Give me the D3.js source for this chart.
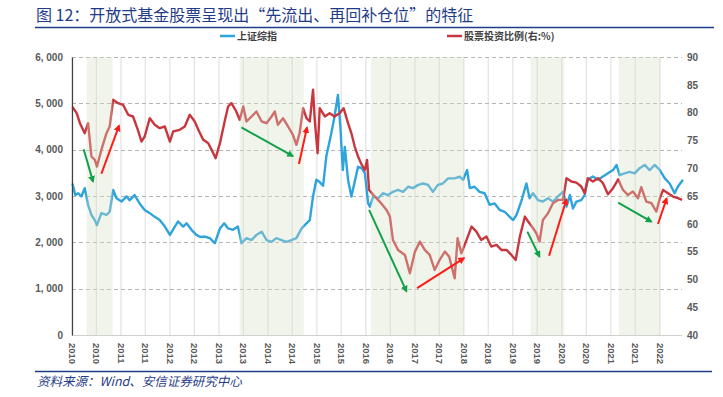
<!DOCTYPE html>
<html><head><meta charset="utf-8">
<script src="https://cdn.jsdelivr.net/npm/d3@7"></script>
<style>body{margin:0;background:#fff}svg{display:block}</style>
</head><body>
<svg id="chart" width="723" height="397"></svg>
<script>
const titleText = "图 12：开放式基金股票呈现出“先流出、再回补仓位”的特征";
const sourceText = "资料来源：Wind、安信证券研究中心";
const seriesNames = ["上证综指", "股票投资比例(右:%)"];
const leftTicks = [0, 1000, 2000, 3000, 4000, 5000, 6000];
const leftTickLabels = ["0", "1, 000", "2, 000", "3, 000", "4, 000", "5, 000", "6, 000"];
const rightTicks = [40, 45, 50, 55, 60, 65, 70, 75, 80, 85, 90];
const xTickDates = ["2010-01-01","2010-07-01","2011-01-01","2011-07-01","2012-01-01","2012-07-01","2013-01-01","2013-07-01","2014-01-01","2014-07-01","2015-01-01","2015-07-01","2016-01-01","2016-07-01","2017-01-01","2017-07-01","2018-01-01","2018-07-01","2019-01-01","2019-07-01","2020-01-01","2020-07-01","2021-01-01","2021-07-01","2022-01-01"];
const xTickLabels = ["2010","2010","2011","2011","2012","2012","2013","2013","2014","2014","2015","2015","2016","2016","2017","2017","2018","2018","2019","2019","2020","2020","2021","2021","2022"];

// 上证综指 (left axis)
const sseDates = ["2010-01-04","2010-01-26","2010-02-17","2010-03-12","2010-04-06","2010-05-01","2010-05-26","2010-06-20","2010-07-06","2010-08-08","2010-09-15","2010-10-09","2010-11-04","2010-11-29","2011-01-05","2011-02-12","2011-03-07","2011-04-13","2011-05-20","2011-06-27","2011-08-04","2011-09-10","2011-10-17","2011-11-24","2012-01-01","2012-02-07","2012-03-02","2012-04-09","2012-05-04","2012-06-10","2012-07-16","2012-08-11","2012-09-18","2012-10-25","2012-12-01","2013-01-08","2013-02-09","2013-03-10","2013-04-16","2013-05-22","2013-06-18","2013-07-25","2013-09-01","2013-10-07","2013-11-15","2013-12-21","2014-01-28","2014-03-04","2014-04-12","2014-05-18","2014-06-25","2014-08-01","2014-09-09","2014-10-15","2014-11-09","2014-12-03","2014-12-28","2015-01-22","2015-02-16","2015-03-12","2015-04-18","2015-05-12","2015-06-07","2015-06-25","2015-07-13","2015-07-28","2015-08-21","2015-09-15","2015-10-10","2015-11-04","2015-12-01","2015-12-25","2016-01-18","2016-01-31","2016-02-25","2016-04-01","2016-05-07","2016-06-15","2016-07-21","2016-08-28","2016-10-04","2016-11-12","2016-12-18","2017-01-25","2017-03-02","2017-04-09","2017-05-15","2017-06-21","2017-07-28","2017-09-05","2017-10-24","2017-12-01","2017-12-26","2018-01-25","2018-02-14","2018-03-21","2018-04-28","2018-06-04","2018-07-12","2018-08-18","2018-09-25","2018-11-01","2018-12-09","2019-01-03","2019-01-28","2019-03-04","2019-04-12","2019-05-06","2019-05-31","2019-07-07","2019-08-13","2019-09-20","2019-10-27","2019-12-03","2020-01-10","2020-02-05","2020-03-01","2020-03-24","2020-04-19","2020-05-25","2020-06-19","2020-07-13","2020-08-20","2020-09-27","2020-11-03","2020-12-10","2021-01-17","2021-02-12","2021-03-07","2021-04-13","2021-05-20","2021-06-27","2021-08-03","2021-09-10","2021-10-17","2021-11-24","2022-01-01","2022-02-07","2022-03-15","2022-04-21","2022-05-15","2022-06-22"];
const sseValues = [3270,3020,3060,2990,3170,2810,2590,2480,2370,2630,2590,2660,3130,2950,2880,2990,2910,3020,2840,2700,2630,2550,2480,2340,2160,2340,2450,2340,2410,2270,2160,2120,2120,2090,1980,2300,2410,2300,2270,2340,1980,2090,2050,2160,2230,2050,2010,2090,2050,2010,2050,2090,2300,2410,2480,2990,3350,3300,3220,3850,4350,4710,5180,4500,3560,4060,3350,2990,3310,3630,3600,3490,2840,2770,2990,2950,3060,3020,3090,3130,3090,3200,3170,3240,3270,3240,3090,3240,3270,3380,3380,3420,3350,3560,3170,3200,3090,3060,2810,2840,2700,2660,2550,2480,2590,2880,3270,2950,3060,2910,2880,2950,2880,2990,3090,2770,3020,2730,2880,2910,3020,3350,3420,3350,3420,3490,3560,3670,3450,3490,3520,3490,3600,3670,3560,3670,3560,3380,3270,3060,3200,3350];

// 股票投资比例 (right axis, %)
const ratioDates = ["2010-01-04","2010-02-05","2010-03-01","2010-04-06","2010-05-01","2010-05-26","2010-06-20","2010-07-06","2010-08-08","2010-09-15","2010-10-09","2010-11-04","2010-12-10","2011-01-17","2011-02-24","2011-04-01","2011-05-07","2011-06-03","2011-06-27","2011-08-04","2011-09-10","2011-10-17","2011-11-24","2012-01-01","2012-01-25","2012-03-14","2012-04-21","2012-05-28","2012-07-04","2012-08-06","2012-09-06","2012-10-13","2012-11-07","2012-12-07","2013-01-08","2013-02-15","2013-03-10","2013-04-04","2013-05-10","2013-06-04","2013-07-01","2013-07-25","2013-09-01","2013-10-07","2013-11-15","2013-12-21","2014-01-28","2014-02-21","2014-03-16","2014-04-23","2014-05-31","2014-07-06","2014-08-01","2014-08-25","2014-09-20","2014-10-15","2014-11-09","2014-12-03","2014-12-16","2015-01-06","2015-01-22","2015-03-01","2015-04-06","2015-05-12","2015-06-19","2015-07-19","2015-08-21","2015-09-15","2015-10-10","2015-11-04","2015-12-01","2015-12-25","2016-01-10","2016-01-25","2016-02-25","2016-04-13","2016-06-03","2016-06-28","2016-07-21","2016-08-28","2016-10-18","2016-11-24","2017-01-01","2017-02-07","2017-03-15","2017-04-21","2017-05-28","2017-07-04","2017-08-12","2017-09-13","2017-10-24","2017-11-15","2017-12-13","2018-01-21","2018-02-27","2018-04-04","2018-05-10","2018-06-18","2018-07-24","2018-09-01","2018-10-07","2018-11-15","2018-12-21","2019-01-22","2019-02-22","2019-04-01","2019-04-25","2019-06-01","2019-06-25","2019-07-19","2019-08-13","2019-09-20","2019-10-27","2019-12-03","2020-01-10","2020-02-05","2020-03-12","2020-04-19","2020-05-25","2020-06-19","2020-07-13","2020-08-20","2020-09-27","2020-11-03","2020-12-10","2021-01-17","2021-02-24","2021-04-01","2021-05-08","2021-06-14","2021-07-22","2021-08-15","2021-09-22","2021-10-30","2021-12-06","2022-01-01","2022-01-25","2022-03-03","2022-04-09","2022-05-15","2022-06-16"];
const ratioValues = [81.0,79.9,78.1,76.3,78.1,72.1,71.5,70.3,73.3,76.3,77.5,82.3,81.7,81.4,79.6,79.3,76.9,74.8,75.7,79.0,77.8,77.2,77.5,74.8,76.6,76.9,77.5,79.6,78.4,76.6,75.1,74.5,73.3,71.8,74.5,78.7,81.1,81.7,80.2,78.7,81.1,78.4,79.3,80.2,78.4,78.1,79.3,80.2,77.8,79.0,77.5,76.0,74.2,76.3,80.8,79.0,78.4,84.1,78.7,72.7,80.8,79.3,79.9,79.3,79.9,80.8,78.1,76.3,73.9,72.1,70.6,69.7,71.5,66.1,65.2,64.0,62.5,61.3,57.1,55.3,54.4,51.1,55.0,56.8,55.3,54.4,51.7,53.5,55.0,54.1,50.2,57.4,54.7,57.1,59.5,58.6,57.1,57.7,55.9,56.2,55.3,55.3,54.4,53.5,57.7,61.3,60.4,59.2,58.3,56.8,60.7,61.9,63.7,64.3,64.3,68.2,67.6,67.4,66.7,65.5,68.2,67.6,68.2,67.3,65.3,66.4,68.0,66.1,65.2,65.8,64.6,66.6,64.0,63.7,62.2,64.6,66.1,65.5,64.9,64.6,64.3];

// shaded periods
const bandStarts = ["2010-04-20","2013-06-04","2016-02-07","2019-05-13","2021-03-01"];
const bandEnds = ["2010-10-30","2014-09-25","2018-01-01","2020-01-19","2022-01-04"];

// annotation arrows (left-axis units): out = green, in = red
const arrowKinds = ["out","in","out","in","out","in","out","in","out","in"];
const arrowStartDates = ["2010-03-29","2010-08-08","2013-06-17","2014-08-20","2016-01-25","2017-01-17","2019-04-19","2019-09-28","2021-02-24","2021-12-18"];
const arrowStartValues = [4010,3480,4480,3690,2700,1010,2230,1710,2855,2395];
const arrowEndDates = ["2010-06-07","2010-12-18","2014-07-06","2014-10-19","2016-10-30","2018-01-03","2019-07-19","2020-02-05","2021-10-30","2022-02-21"];
const arrowEndValues = [3310,4520,3860,4480,940,1660,1690,2930,2445,2950];

const parse = d3.timeParse("%Y-%m-%d");
const svg = d3.select("#chart");
const M = {left: 72, right: 684, top: 57, bottom: 335};
const x = d3.scaleTime().domain([parse("2010-01-01"), parse("2022-06-30")]).range([M.left, M.right]);
const yL = d3.scaleLinear().domain([0, 6000]).range([M.bottom, M.top]);
const yR = d3.scaleLinear().domain([40, 90]).range([M.bottom, M.top]);
const gridRight = 682;

const blue = "#2fa4dc", red = "#c8373e", navy = "#1f3c88";
const font = "'Noto Sans CJK SC','Noto Sans',sans-serif";

// title
svg.append("text").attr("x", 36).attr("y", 21).attr("fill", navy)
  .style("font-family", font).style("font-size", "16px").text(titleText);
svg.append("line").attr("x1", 35).attr("x2", 714).attr("y1", 27.5).attr("y2", 27.5)
  .attr("stroke", navy).attr("stroke-width", 1.5);

// legend
const legend = [{name: seriesNames[0], color: blue, x: 220}, {name: seriesNames[1], color: red, x: 447}];
legend.forEach(l => {
  svg.append("line").attr("x1", l.x).attr("x2", l.x + 15).attr("y1", 36).attr("y2", 36)
    .attr("stroke", l.color).attr("stroke-width", 2.5);
  svg.append("text").attr("x", l.x + 17).attr("y", 36).attr("dy", "0.35em")
    .attr("fill", "#404040").style("font-family", font).style("font-size", "10px").style("font-weight", "bold").text(l.name);
});

// vertical gridlines
const xt = xTickDates.map(parse);
svg.append("g").selectAll("line").data(xt).join("line")
  .attr("x1", d => x(d)).attr("x2", d => x(d)).attr("y1", M.top).attr("y2", M.bottom)
  .attr("stroke", "#dcdcdc").attr("stroke-width", 1);

// horizontal dashed gridlines
svg.append("g").selectAll("line").data(leftTicks.filter(d => d > 0)).join("line")
  .attr("x1", M.left).attr("x2", gridRight).attr("y1", d => Math.round(yL(d)) + 0.5).attr("y2", d => Math.round(yL(d)) + 0.5)
  .attr("stroke", "#b5b5b5").attr("stroke-width", 1).attr("stroke-dasharray", "4,3");

// lines
const lineL = d3.line().x(d => x(d[0])).y(d => yL(d[1]));
const lineR = d3.line().x(d => x(d[0])).y(d => yR(d[1]));
svg.append("path").datum(sseDates.map((d, i) => [parse(d), sseValues[i]]))
  .attr("d", lineL).attr("fill", "none").attr("stroke", blue).attr("stroke-width", 2.4).attr("stroke-linejoin", "round");
svg.append("path").datum(ratioDates.map((d, i) => [parse(d), ratioValues[i]]))
  .attr("d", lineR).attr("fill", "none").attr("stroke", red).attr("stroke-width", 2.4).attr("stroke-linejoin", "round");

// shaded bands overlay
svg.append("g").selectAll("rect").data(bandStarts.map((s, i) => [parse(s), parse(bandEnds[i])])).join("rect")
  .attr("x", d => x(d[0])).attr("width", d => x(d[1]) - x(d[0]))
  .attr("y", M.top).attr("height", M.bottom - M.top)
  .attr("fill", "rgb(215,224,195)").attr("fill-opacity", 0.35);

// axes
svg.append("line").attr("x1", M.left).attr("x2", gridRight)
  .attr("y1", M.bottom + 0.5).attr("y2", M.bottom + 0.5).attr("stroke", "#d0d0d0").attr("stroke-width", 1);

const axL = svg.append("g").attr("transform", `translate(${M.left},0)`)
  .call(d3.axisLeft(yL).tickValues(leftTicks).tickSize(0).tickPadding(9).tickFormat((d, i) => leftTickLabels[i]));
axL.select(".domain").attr("stroke", "#404040").attr("stroke-width", 1.2);
axL.selectAll("text").attr("fill", "#595959").style("font-family", "Arial, 'Liberation Sans', sans-serif").style("font-size", "10px").style("font-weight", "bold");

const axR = svg.append("g").attr("transform", `translate(${M.right},0)`)
  .call(d3.axisRight(yR).tickValues(rightTicks).tickSize(0).tickPadding(3));
axR.select(".domain").remove();
axR.selectAll("text").attr("fill", "#595959").style("font-family", "Arial, 'Liberation Sans', sans-serif").style("font-size", "10px").style("font-weight", "bold");

const axB = svg.append("g").attr("transform", `translate(0,${M.bottom})`)
  .call(d3.axisBottom(x).tickValues(xt).tickSize(0).tickFormat((d, i) => xTickLabels[i]));
axB.select(".domain").remove();
axB.selectAll("text").attr("y", 0).attr("x", 8).attr("dy", "0.35em")
  .attr("transform", "rotate(90)").style("text-anchor", "start")
  .attr("fill", "#595959").style("font-family", "Arial, 'Liberation Sans', sans-serif").style("font-size", "9.5px").style("font-weight", "bold");

// arrows
const arrowColor = {out: "#12a14b", in: "#ff1a1a"};
const defs = svg.append("defs");
Object.entries(arrowColor).forEach(([k, c]) => {
  defs.append("marker").attr("id", "ah-" + k).attr("viewBox", "0 0 10 10").attr("refX", 8).attr("refY", 5)
    .attr("markerWidth", 7).attr("markerHeight", 7).attr("markerUnits", "userSpaceOnUse").attr("orient", "auto")
    .append("path").attr("d", "M0,0 L10,5 L0,10 z").attr("fill", c);
});
svg.append("g").selectAll("line").data(arrowKinds.map((k, i) => ({k, i}))).join("line")
  .attr("x1", d => x(parse(arrowStartDates[d.i]))).attr("y1", d => yL(arrowStartValues[d.i]))
  .attr("x2", d => x(parse(arrowEndDates[d.i]))).attr("y2", d => yL(arrowEndValues[d.i]))
  .attr("stroke", d => arrowColor[d.k]).attr("stroke-width", 2)
  .attr("marker-end", d => `url(#ah-${d.k})`);

// footer
svg.append("line").attr("x1", 35).attr("x2", 712).attr("y1", 371.5).attr("y2", 371.5)
  .attr("stroke", navy).attr("stroke-width", 1.5);
svg.append("text").attr("x", 37).attr("y", 386).attr("fill", navy)
  .style("font-family", font).style("font-size", "12.5px").style("font-style", "italic").text(sourceText);
</script>
</body></html>
